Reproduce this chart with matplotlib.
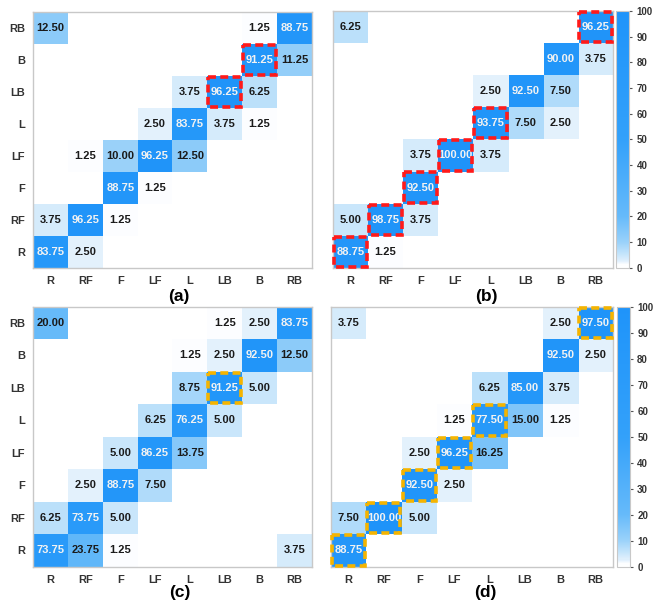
import numpy as np
import matplotlib
matplotlib.use("Agg")
import matplotlib.pyplot as plt
from matplotlib.colors import LinearSegmentedColormap
from matplotlib.patches import Rectangle

plt.rcParams['font.family'] = ['Liberation Sans', 'DejaVu Sans']
plt.rcParams['font.weight'] = 'bold'

# predicted classes along x, true classes along y (listed top to bottom)
col_labels = ['R', 'RF', 'F', 'LF', 'L', 'LB', 'B', 'RB']
row_labels = ['RB', 'B', 'LB', 'L', 'LF', 'F', 'RF', 'R']

mat_a = [
    [12.50, 0, 0, 0, 0, 0, 1.25, 88.75],
    [0, 0, 0, 0, 0, 0, 91.25, 11.25],
    [0, 0, 0, 0, 3.75, 96.25, 6.25, 0],
    [0, 0, 0, 2.50, 83.75, 3.75, 1.25, 0],
    [0, 1.25, 10.00, 96.25, 12.50, 0, 0, 0],
    [0, 0, 88.75, 1.25, 0, 0, 0, 0],
    [3.75, 96.25, 1.25, 0, 0, 0, 0, 0],
    [83.75, 2.50, 0, 0, 0, 0, 0, 0],
]
mat_b = [
    [6.25, 0, 0, 0, 0, 0, 0, 96.25],
    [0, 0, 0, 0, 0, 0, 90.00, 3.75],
    [0, 0, 0, 0, 2.50, 92.50, 7.50, 0],
    [0, 0, 0, 0, 93.75, 7.50, 2.50, 0],
    [0, 0, 3.75, 100.00, 3.75, 0, 0, 0],
    [0, 0, 92.50, 0, 0, 0, 0, 0],
    [5.00, 98.75, 3.75, 0, 0, 0, 0, 0],
    [88.75, 1.25, 0, 0, 0, 0, 0, 0],
]
mat_c = [
    [20.00, 0, 0, 0, 0, 1.25, 2.50, 83.75],
    [0, 0, 0, 0, 1.25, 2.50, 92.50, 12.50],
    [0, 0, 0, 0, 8.75, 91.25, 5.00, 0],
    [0, 0, 0, 6.25, 76.25, 5.00, 0, 0],
    [0, 0, 5.00, 86.25, 13.75, 0, 0, 0],
    [0, 2.50, 88.75, 7.50, 0, 0, 0, 0],
    [6.25, 73.75, 5.00, 0, 0, 0, 0, 0],
    [73.75, 23.75, 1.25, 0, 0, 0, 0, 3.75],
]
mat_d = [
    [3.75, 0, 0, 0, 0, 0, 2.50, 97.50],
    [0, 0, 0, 0, 0, 0, 92.50, 2.50],
    [0, 0, 0, 0, 6.25, 85.00, 3.75, 0],
    [0, 0, 0, 1.25, 77.50, 15.00, 1.25, 0],
    [0, 0, 2.50, 96.25, 16.25, 0, 0, 0],
    [0, 0, 92.50, 2.50, 0, 0, 0, 0],
    [7.50, 100.00, 5.00, 0, 0, 0, 0, 0],
    [88.75, 0, 0, 0, 0, 0, 0, 0],
]

# highlighted diagonal cells per panel
hl_a = ['LB', 'B']
hl_b = ['R', 'RF', 'F', 'LF', 'L', 'RB']
hl_c = ['LB']
hl_d = ['R', 'RF', 'F', 'LF', 'L', 'RB']

cmap = LinearSegmentedColormap.from_list('cm_blue', [
    (0.0, (1, 1, 1)),
    (0.0125, (0.99, 0.995, 1.0)),
    (0.025, (0.88, 0.94, 0.99)),
    (0.05, (0.78, 0.90, 0.985)),
    (0.10, (0.60, 0.82, 0.98)),
    (0.20, (0.40, 0.73, 0.98)),
    (0.50, (0.20, 0.63, 0.98)),
    (1.0, (0.12, 0.58, 0.98)),
])

fig = plt.figure(figsize=(6.62, 6.06), dpi=100)

panels = [
    (mat_a, hl_a, '#ff1a1a', '(a)', [0.050, 0.558, 0.421, 0.422], True, None, (179, 297)),
    (mat_b, hl_b, '#ff1a1a', '(b)', [0.503, 0.558, 0.423, 0.424], False, [0.931, 0.558, 0.019, 0.424], (486, 297)),
    (mat_c, hl_c, '#f5b400', '(c)', [0.050, 0.065, 0.421, 0.429], True, None, (180, 592)),
    (mat_d, hl_d, '#f5b400', '(d)', [0.500, 0.065, 0.426, 0.429], False, [0.932, 0.065, 0.019, 0.429], (485, 592)),
]

for mat, hl, hcol, tag, pos, show_y, cpos, tag_px in panels:
    m = np.array(mat)
    ax = fig.add_axes(pos)
    im = ax.imshow(m, cmap=cmap, vmin=0, vmax=100, aspect='auto', interpolation='nearest')
    for i in range(m.shape[0]):
        for j in range(m.shape[1]):
            v = m[i, j]
            if v > 0:
                ax.text(j, i, '%.2f' % v, ha='center', va='center', fontsize=8,
                        fontweight='bold', color='#f2f2f2' if v > 50 else '#1a1a1a')
    for name in hl:
        j = col_labels.index(name)
        i = row_labels.index(name)
        ax.add_patch(Rectangle((j - 0.47, i - 0.47), 0.94, 0.94, fill=False, ec=hcol,
                               lw=2.6, ls=(0, (2.2, 1.2)), clip_on=False, zorder=5))
    ax.set_xticks(range(8))
    ax.set_xticklabels(col_labels, fontsize=8, fontweight='bold', color='#333333')
    if show_y:
        ax.set_yticks(range(8))
        ax.set_yticklabels(row_labels, fontsize=8, fontweight='bold', color='#333333')
    else:
        ax.set_yticks([])
    ax.tick_params(length=0, pad=6)
    for s in ax.spines.values():
        s.set_color('#c8c8c8')
        s.set_linewidth(1.0)
    fig.text(tag_px[0] / 662, 1 - tag_px[1] / 606, tag, ha='center', va='center',
             fontsize=12.5, fontweight='bold', color='black')
    if cpos is not None:
        cax = fig.add_axes(cpos)
        cb = fig.colorbar(im, cax=cax, ticks=range(0, 101, 10))
        cb.outline.set_edgecolor('#c8c8c8')
        cb.ax.tick_params(labelsize=7, length=2, color='#555555', labelcolor='#333333')
        for t in cb.ax.get_yticklabels():
            t.set_fontweight('bold')

fig.savefig('out.png', dpi=100)
